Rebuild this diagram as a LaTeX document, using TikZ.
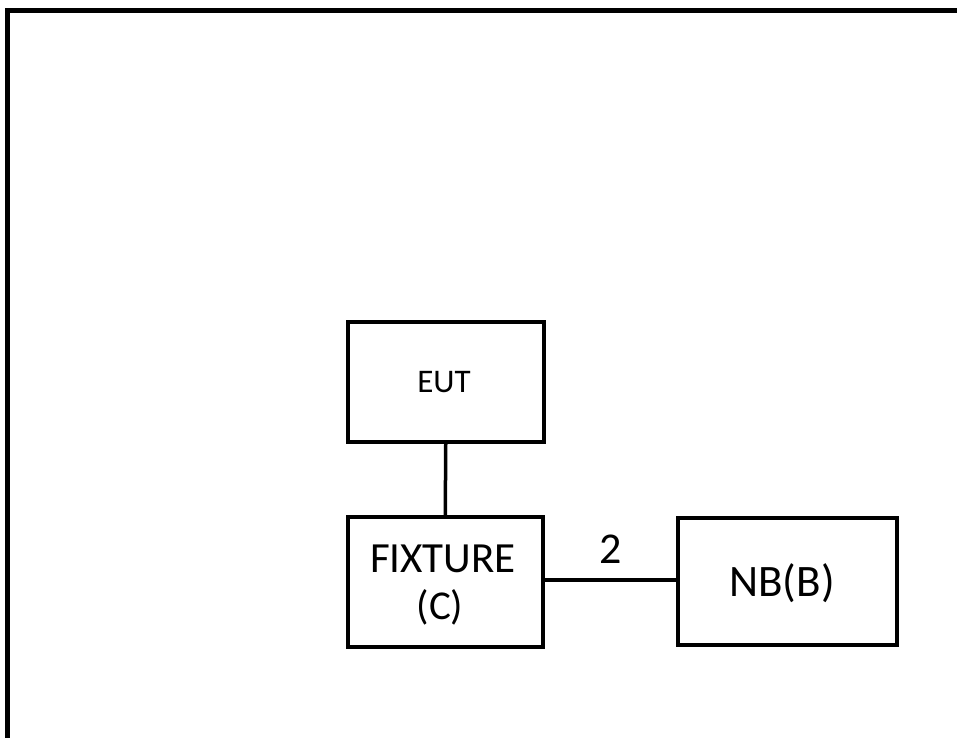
\documentclass[tikz,border=0pt]{standalone}
\usepackage{fontspec}
\setmainfont{Carlito}
\begin{document}
\begin{tikzpicture}[x=1pt,y=-1pt,
  blk/.style={draw,line width=3.5pt,inner sep=0pt,anchor=north west},
  wire/.style={line width=3.5pt}]
\useasboundingbox (0,0) rectangle (957,737);
\fill[white] (0,0) rectangle (957,737);
\coordinate (fb) at (7,740);
\coordinate (fc) at (7,10);
\coordinate (fr) at (960,10);
\draw[line width=5pt] (fb) -- (fc) -- (fr);
\node[blk,minimum width=196pt,minimum height=120pt] (eut) at (346,320) {};
\node[font=\fontsize{33}{36}\selectfont] at (444,382) {EUT};
\node[blk,minimum width=195pt,minimum height=130pt] (fix) at (346,515) {};
\node[font=\fontsize{43}{46}\selectfont] at (443,559) {FIXTURE};
\node[font=\fontsize{41}{44}\selectfont] at (440,607) {(C)};
\node[blk,minimum width=219pt,minimum height=127pt] (nb) at (676,516) {};
\node[font=\fontsize{45}{48}\selectfont] at (782,583) {NB(B)};
\draw[wire] (eut.south) -- (fix.north);
\draw[wire] (fix.east |- 0,580) -- node[above=11pt,font=\fontsize{44}{46}\selectfont] {2} (nb.west |- 0,580);
\end{tikzpicture}
\end{document}
